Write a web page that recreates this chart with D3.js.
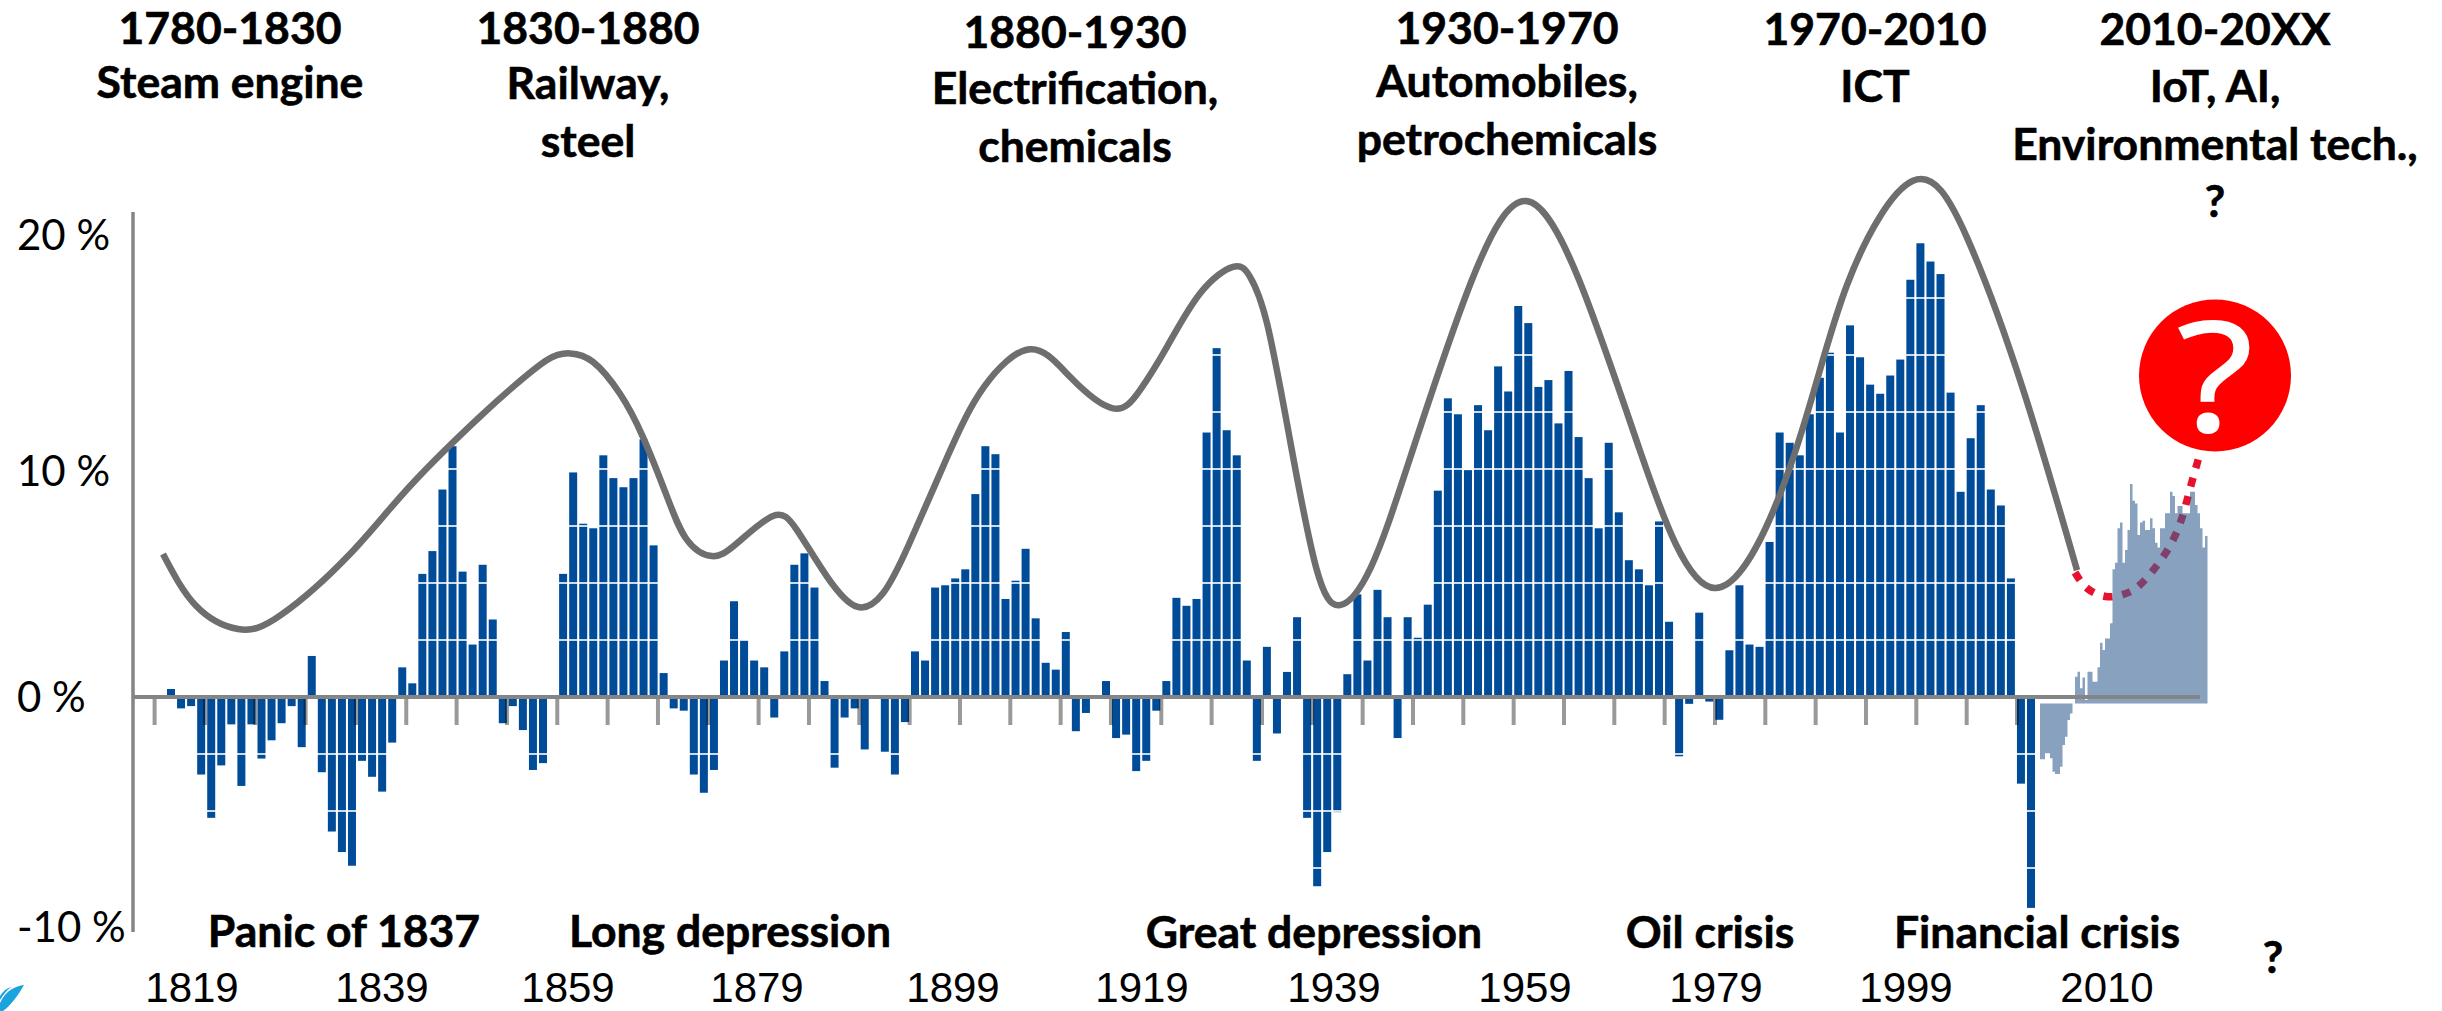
<!DOCTYPE html>
<html><head><meta charset="utf-8">
<script src="https://cdn.jsdelivr.net/npm/d3@7/dist/d3.min.js"></script>
<style>html,body{margin:0;padding:0;background:#fff}svg{display:block}</style>
</head><body><svg id="c" width="2442" height="1011"></svg>
<script>
const barYears = d3.range(1824, 2010);
const barValues = [
0.35,-0.5,-0.4,-3.4,-5.3,-3.0,-1.2,-3.9,-1.2,-2.7,-1.9,-1.15,-0.4,-2.2,1.8,-3.3,-5.9,-6.8,-7.4,-2.8,-3.5,-4.15,-2.0,1.3,0.6,5.4,6.4,9.1,11.0,5.5,2.3,5.8,3.4,-1.15,-0.4,-1.45,-3.2,-2.9,0,5.4,9.85,7.6,7.4,10.6,9.6,9.2,9.6,11.3,6.65,1.05,-0.5,
-0.6,-3.4,-4.2,-3.2,1.6,4.2,2.5,1.6,1.3,-0.9,2.0,5.8,6.3,4.8,0.7,-3.1,-0.9,-0.5,-2.3,0,-2.4,-3.4,-1.1,2.0,1.6,4.8,4.9,5.2,5.6,8.9,11.0,10.65,4.3,5.1,6.5,3.45,1.5,1.2,2.85,-1.5,-0.7,0,0.7,-1.8,-1.65,-3.25,-2.8,-0.6,0.7,4.35,4.0,4.3,11.6,15.3,11.7,10.6,
1.6,-2.8,2.2,-1.6,1.1,3.5,-5.3,-8.3,-6.8,-5.05,1.0,4.5,1.6,4.7,3.5,-1.8,3.5,2.6,4.05,9.05,13.1,12.4,9.95,12.8,11.7,14.5,13.4,17.15,16.4,13.6,13.9,12,14.3,11.4,9.6,7.4,11.15,8.1,6,5.6,4.9,7.7,3.3,-2.6,-0.3,3.7,-0.2,-1.0,2.05,4.9,2.3,2.2,6.8,11.6,11.15,10.6,
12.4,14,15.1,11.6,16.3,14.9,13.7,13.3,14.1,14.8,18.3,19.9,19.1,18.55,13.35,9.0,11.35,12.8,9.1,8.4,5.2,-3.8,-9.25];
const tickYears = d3.range(1822, 2008, 5);
const gridValues = [-7.5,-5,-2.5,2.5,5,7.5,10,12.5,15,17.5];

const curveYears = [1822.2,1825.5,1829.7,1834,1840.8,1847,1853.9,1857.2,1860.6,1862.9,1865.2,1867.9,1870.2,1872.6,1874.6,1877.1,1879.6,1883.2,1885.6,1888.6,1891.6,1894.2,1896.8,1900.7,1904.3,1908.9,1913,1917.2,1919.9,1922.6,1925.9,1929.2,1930.9,1932.6,1934.9,1937.5,1939.9,1943,1947,1953.1,1958.5,1963.8,1969.9,1977.4,1985.3,1990.6,1997.2,2002.6,2008.2,2013.6];
const curveValues = [6.27,4.0,2.98,3.6,6.23,9.3,12.3,13.6,14.78,15.07,14.7,13.3,11.4,8.79,6.89,6.18,6.74,7.94,7.32,5.28,3.96,4.55,6.7,10.6,13.6,15.25,14,12.66,13.46,15.36,17.7,18.87,18.43,16.39,11.27,5.7,4.03,5.7,10.6,18.3,21.75,18.3,10.8,4.78,10.6,18.07,22.64,20.15,13.5,5.56];

const dashYears = [2013.4,2014.7,2016.7,2018.4,2020,2022.4,2024,2025,2026];
const dashValues = [5.46,4.74,4.4,4.53,4.96,6.27,7.73,9.29,10.83];

const areaStartYear = 2009.9;
const areaBase = -0.28;
const areaValues = [-2.73,-2.73,-2.47,-2.47,-2.69,-3.28,-3.38,-3.38,-3.06,-2.1,-1.74,-1.01,-0.72,-0.28,0.89,1.11,0.38,0.86,-0.13,1.11,1.11,0.67,0.67,1.3,2.38,2.06,2.57,2.57,3.23,5.6,5.89,7.4,7.65,5.89,6.45,7.33,9.34,8.61,8.49,7.11,7.65,7.73,7.33,7.33,7.84,7.4,6.77,6.56,7.4,7.4,8.06,8.06,9,8.82,8.06,8.38,8.38,8.06,8.06,8.06,9,9,8.42,8.06,7.4,6.56,7.06];

const waveTitles = [["1780-1830","Steam engine"],["1830-1880","Railway,","steel"],["1880-1930","Electrification,","chemicals"],["1930-1970","Automobiles,","petrochemicals"],["1970-2010","ICT"],["2010-20XX","IoT, AI,","Environmental tech.,","?"]];
const crisisLabels = ["Panic of 1837","Long depression","Great depression","Oil crisis","Financial crisis","?"];
const yearLabels = ["1819","1839","1859","1879","1899","1919","1939","1959","1979","1999","2010"];
const yLabels = ["20 %","10 %","0 %","-10 %"];

const svg = d3.select("#c");
const x = d3.scaleLinear().domain([1823,2009]).range([171,2031]);
const xBar = d3.scalePoint().domain(barYears).range([171,2031]);
const xTick = d3.scalePoint().domain(tickYears).range([154.6,2017]);
const y = d3.scaleLinear().domain([0,10]).range([697,469]);
const axisX = 133, baseEnd = 2200, barW = 8, grey = "#858585";

const soft = svg.append("g").style("filter","blur(0.55px)");

soft.append("g").selectAll("rect").data(barValues).join("rect")
  .attr("x",(d,i)=>xBar(barYears[i])-barW/2).attr("width",barW)
  .attr("y",d=>Math.min(y(d),y(0))).attr("height",d=>Math.abs(y(d)-y(0)))
  .attr("fill","#004c99");
soft.append("g").selectAll("line").data(gridValues).join("line")
  .attr("x1",axisX).attr("x2",xBar(2009)+barW/2+1)
  .attr("y1",d=>y(d)).attr("y2",d=>y(d))
  .attr("stroke","#fff").attr("stroke-opacity",.8).attr("stroke-width",2);
soft.append("g").style("mix-blend-mode","multiply").selectAll("line").data(tickYears).join("line")
  .attr("x1",d=>xTick(d)).attr("x2",d=>xTick(d)).attr("y1",y(0)).attr("y2",725)
  .attr("stroke","#999").attr("stroke-width",4);

soft.append("path").datum(curveYears)
  .attr("d",d3.line().x(d=>x(d)).y((d,i)=>y(curveValues[i])).curve(d3.curveNatural))
  .attr("fill","none").attr("stroke","#6e6e6e").attr("stroke-width",6.5);
soft.append("path").datum(dashYears)
  .attr("d",d3.line().x(d=>x(d)).y((d,i)=>y(dashValues[i])).curve(d3.curveNatural))
  .attr("fill","none").attr("stroke","#e8112d").attr("stroke-width",7.5).attr("stroke-dasharray","9 10");
soft.append("path").datum(areaValues)
  .attr("d",d3.area().x((d,i)=>x(areaStartYear+i/4)).y0(y(areaBase)).y1(d=>y(d)).curve(d3.curveStepAfter)
     (areaValues.concat(areaValues[areaValues.length-1])))
  .attr("fill","#386394").attr("fill-opacity",.6);

soft.append("line").attr("x1",axisX).attr("x2",baseEnd).attr("y1",y(0)).attr("y2",y(0)).attr("stroke",grey).attr("stroke-width",4);
soft.append("line").attr("x1",axisX).attr("x2",axisX).attr("y1",212).attr("y2",932).attr("stroke",grey).attr("stroke-width",3.5);

svg.append("circle").attr("cx",2215).attr("cy",375.5).attr("r",76).attr("fill","#ff0000");
svg.append("text").text("?").attr("transform","translate(2215,431) scale(1.15,1)").attr("text-anchor","middle")
  .attr("font-family","'Open Sans'").attr("font-size",153).attr("fill","#fff").attr("stroke","#fff").attr("stroke-width",2);

const fam = "Lato", size = 44.5;
const titleX = [230,588,1075,1507,1875,2215], titleY = [44,44,48,44,45,45], lineH = 57.5, secondY = [98,99,104,97,102,102];
const tg = svg.append("g").attr("font-family",fam).attr("font-weight",700).attr("font-size",size).attr("fill","#000")
  .attr("stroke","#000").attr("stroke-width",.6).attr("text-anchor","middle");
waveTitles.forEach((lines,i)=>lines.forEach((t,j)=>
  tg.append("text").attr("x",titleX[i]).attr("y",j===0?titleY[i]:secondY[i]+(j-1)*lineH).text(t)));
const crisisX = [344,730,1314,1710,2037,2273], crisisY = [947,947,948,948,948,973];
crisisLabels.forEach((t,i)=>tg.append("text").attr("x",crisisX[i]).attr("y",crisisY[i]).text(t));

const yrX = [192,382,568,757,953,1142,1334,1525,1716,1906,2107];
svg.append("g").attr("font-family","'Liberation Sans'").attr("font-size",42).attr("text-anchor","middle")
  .selectAll("text").data(yearLabels).join("text").attr("x",(d,i)=>yrX[i]).attr("y",1002).text(d=>d);
const yLabY = [250,486,712,942];
svg.append("g").attr("font-family",fam).attr("font-size",42)
  .selectAll("text").data(yLabels).join("text").attr("x",17).attr("y",(d,i)=>yLabY[i]).text(d=>d);

svg.append("path").attr("d","M0,1003 C6,990 16,986 24,985 C18,996 10,1006 3,1011 L0,1011 Z M0,996 C3,991 7,988 11,987 C6,991 3,995 0,1000 Z")
  .attr("fill","#1aa3dc").attr("fill-rule","evenodd");
</script></body></html>
